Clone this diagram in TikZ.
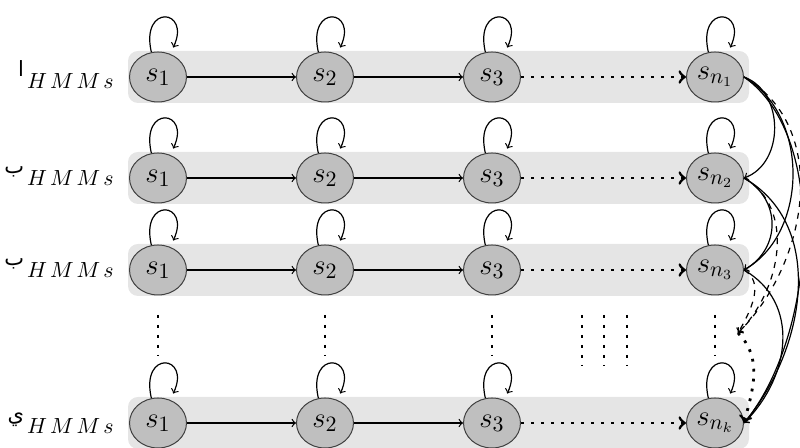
\documentclass[tikz,border=0pt]{standalone}
\usepackage{fontspec}
\usetikzlibrary{shapes.geometric}
\newfontfamily\arabicfont[Script=Arabic]{DejaVu Sans}
\TeXXeTstate=1
\begin{document}
\begin{tikzpicture}[x=0.5pt,y=0.5pt,
  st/.style={ellipse, draw=black!75, fill=black!25, line width=0.5pt, minimum width=28.5pt, minimum height=25pt, inner sep=0pt, font=\fontsize{15}{17}\selectfont},
  band/.style={fill=black!10, rounded corners=5pt},
  lab/.style={anchor=east, inner sep=0pt},
  ln/.style={line width=0.6pt},
  dotline/.style={line width=1.4pt, dash pattern=on 1.4pt off 3.6pt},
  selfloop/.style={->, line width=0.6pt, shorten >=3.5pt},
  >=to]
\useasboundingbox (0,0) rectangle (800,448);
\newcommand{\hmmlab}[1]{{\fontsize{10.5}{11}\selectfont\arabicfont\beginR #1\endR}\kern1.5pt\raisebox{-6pt}{\fontsize{11}{13}\selectfont$H\kern1.5pt M\kern1.5pt M\kern1.5pt s$}}
% bands
\foreach \r in {371,270,178,25}{
  \fill[band] (128,\r-26) rectangle (749,\r+26);
}
% labels
\node[lab] (l1) at (114,373) {\hmmlab{ا}};
\node[lab] (l2) at (114,272) {\hmmlab{ب}};
\node[lab] (l3) at (114,180) {\hmmlab{ب}};
\node[lab] (l4) at (114,25) {\hmmlab{ي}};
% nodes
\foreach \r/\y in {1/371,2/270,3/178,4/25}{
  \node[st] (a\r) at (158,\y) {$s_1$};
  \node[st] (b\r) at (325,\y) {$s_2$};
  \node[st] (c\r) at (492,\y) {$s_3$};
}
\node[st] (n1) at (715,371) {$s_{n_1}$};
\node[st] (n2) at (715,270) {$s_{n_2}$};
\node[st] (n3) at (715,178) {$s_{n_3}$};
\node[st] (nk) at (715,25) {$s_{n_k}$};
% horizontal edges and loops
\foreach \r/\n in {1/n1,2/n2,3/n3,4/nk}{
  \draw[->,ln] (a\r) -- (b\r);
  \draw[->,ln] (b\r) -- (c\r);
  \draw[->,dotline] (c\r) -- (\n);
  \foreach \m in {a\r,b\r,c\r,\n}{
    \draw[selfloop] (\m.105) .. controls +(103:25pt) and +(65:25pt) .. (\m.62);
  }
}
% vertical dots
\foreach \x in {158,325,492,715}{
  \coordinate (vt\x) at (\x,133);
  \coordinate (vb\x) at (\x,92);
  \draw[dotline] (vt\x) -- (vb\x);
}
\foreach \x in {582,604,627}{
  \coordinate (wt\x) at (\x,133);
  \coordinate (wb\x) at (\x,82);
  \draw[dotline] (wt\x) -- (wb\x);
}
% right side connectors
\coordinate (d) at (738,115);
\draw[->,ln] (n1.east) to[out=-20,in=20,looseness=1.1] (n2.east);
\draw[->,ln] (n1.east) to[out=-30,in=30] (n3.east);
\draw[->,ln] (n1.east) to[out=-35,in=50,looseness=0.8] (nk.east);
\draw[->,ln,dashed] (n1.east) to[out=-30,in=45] (d);
\draw[->,ln] (n2.east) to[out=-30,in=30,looseness=1.2] (n3.east);
\draw[->,ln] (n2.east) to[out=-30,in=50] (nk.east);
\draw[->,ln,dashed] (n2.east) to[out=-30,in=45] (d);
\draw[->,ln] (n3.east) to[out=-30,in=45,looseness=1.1] (nk.east);
\draw[->,ln,dashed] (n3.east) to[out=-30,in=60] (d);
\draw[->,dotline] (d) to[out=-45,in=75] (nk.east);
\end{tikzpicture}
\end{document}
